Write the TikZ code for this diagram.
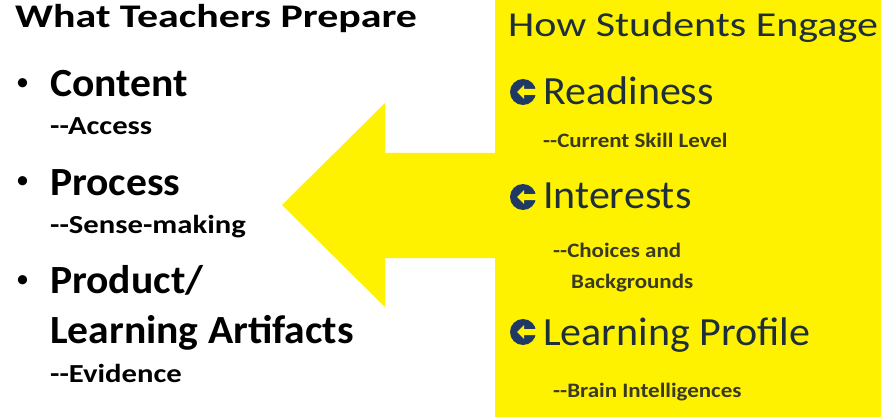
\documentclass[tikz,border=0pt]{standalone}
\usepackage{fontspec}
\setmainfont{Carlito}
\definecolor{navyicon}{HTML}{1F3864}
\definecolor{engagetext}{HTML}{1F2F3A}
\definecolor{subtext}{HTML}{3A3A22}
\newcommand\dashes{-\kern0pt-}
\tikzset{
  txt/.style={anchor=base west, inner sep=0pt},
  prephead/.style={txt, font=\bfseries\addfontfeatures{FakeStretch=1.27}\fontsize{33}{33}\selectfont},
  prepitem/.style={txt, font=\bfseries\addfontfeatures{FakeStretch=1.04}\fontsize{40}{40}\selectfont},
  prepdot/.style={txt, font=\fontsize{26}{26}\selectfont},
  prepsub/.style={txt, font=\bfseries\addfontfeatures{FakeStretch=1.18}\fontsize{26}{26}\selectfont},
  engagehead/.style={txt, text=engagetext, font=\addfontfeatures{FakeStretch=1.2}\fontsize{35}{35}\selectfont},
  engageitem/.style={txt, text=engagetext, font=\addfontfeatures{FakeStretch=1.05}\fontsize{40}{40}\selectfont},
  engagesub/.style={txt, text=subtext, font=\bfseries\addfontfeatures{FakeStretch=1.12}\fontsize{20.5}{20.5}\selectfont},
}
\begin{document}
\begin{tikzpicture}[x=1pt, y=-1pt, line join=round]
\useasboundingbox (0,0) rectangle (881,417);
\path
(282,205) coordinate (T)
(385,103) coordinate (H1)
(385,153) coordinate (S1)
(496,153) coordinate (S2)
(496,258) coordinate (S3)
(385,258) coordinate (S4)
(385,307) coordinate (H2)
;
% yellow panel and arrow
\fill[yellow] (495,0) rectangle (881,417);
\fill[yellow] (T)--(H1)--(S1)--(S2)--(S3)--(S4)--(H2)--cycle;
% left column
\node[prephead] (prep) at (15,28) {What Teachers Prepare};
\foreach \n/\y in {content/91,process/189,product/287}
\node[prepdot] (b\n) at (16,\y) {\textbullet};
\node[prepitem] (content) at (50,97) {Content};
\node[prepsub] (access) at (50,135) {\dashes Access};
\node[prepitem] (process) at (50,195) {Process};
\node[prepsub] (sense) at (50,233) {\dashes Sense-making};
\node[prepitem] (product) at (50,293) {Product/};
\node[prepitem] (artifacts) at (50,343) {Learning Artifacts};
\node[prepsub] (evidence) at (50,382) {\dashes Evidence};
% right column
\node[engagehead] (engage) at (508,37) {How Students Engage};
\foreach \n/\y in {ready/92,inter/197,profile/332}{
\begin{scope}[shift={(523,\y)}]
\fill[navyicon] (0,0) circle (13);
\fill[yellow] (-6,0)--(1,-7)--(1,-3)--(14,-3)--(14,3)--(1,3)--(1,7)--cycle;
\end{scope}
}
\node[engageitem] (ready) at (543,105) {Readiness};
\node[engagesub] (skill) at (543,148) {\dashes Current Skill Level};
\node[engageitem] (inter) at (543,208) {Interests};
\node[engagesub] (choices) at (553,257) {\dashes Choices and};
\node[engagesub] (backgr) at (571,288) {Backgrounds};
\node[engageitem] (profile) at (543,345) {Learning Profile};
\node[engagesub] (brain) at (553,397) {\dashes Brain Intelligences};
\end{tikzpicture}
\end{document}
